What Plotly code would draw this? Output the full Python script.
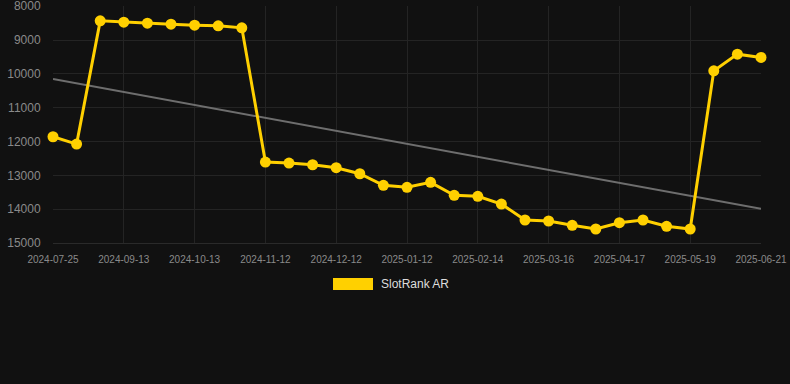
import plotly.graph_objects as go

dates = ["2024-07-25","2024-08-04","2024-09-03","2024-09-13","2024-09-23","2024-10-03",
         "2024-10-13","2024-10-23","2024-11-02","2024-11-12","2024-11-22","2024-12-02",
         "2024-12-12","2024-12-22","2025-01-01","2025-01-12","2025-01-23","2025-02-03",
         "2025-02-14","2025-02-24","2025-03-06","2025-03-16","2025-03-27","2025-04-06",
         "2025-04-17","2025-04-27","2025-05-08","2025-05-19","2025-05-30","2025-06-10",
         "2025-06-21"]
rank = [11860, 12076, 8434, 8473, 8502, 8532, 8561, 8581, 8640, 12607, 12637, 12687,
        12775, 12953, 13296, 13355, 13207, 13591, 13621, 13848, 14320, 14350, 14478,
        14586, 14400, 14320, 14507, 14586, 9910, 9418, 9516]
trend_x = [dates[0], dates[-1]]
trend_y = [10150, 13990]
tick_labels = dates[::3]
y_ticks = [8000, 9000, 10000, 11000, 12000, 13000, 14000, 15000]
series_name = "SlotRank AR"

W, H = 790, 384
L, R, T, B = 53, 29, 6, 141
pw, ph = W - L - R, H - T - B

fig = go.Figure()
fig.add_trace(go.Scatter(x=trend_x, y=trend_y, mode="lines",
                         line=dict(color="#6e6e6e", width=2), showlegend=False,
                         hoverinfo="skip", cliponaxis=False))
fig.add_trace(go.Scatter(x=dates, y=rank, mode="lines+markers", name=series_name,
                         line=dict(color="#FFD000", width=3),
                         marker=dict(color="#FFD000", size=11), showlegend=False,
                         cliponaxis=False))

def px_x(v):
    return (v - L) / pw

def px_y(v):
    return (H - B - v) / ph

fig.add_shape(type="rect", xref="paper", yref="paper",
              x0=px_x(333), x1=px_x(373), y0=px_y(290), y1=px_y(278),
              fillcolor="#FFD000", line=dict(width=0))
fig.add_annotation(xref="paper", yref="paper", x=px_x(379), y=px_y(284),
                   text=series_name, showarrow=False, xanchor="left", yanchor="middle",
                   font=dict(family="Liberation Sans, Arial", size=12, color="#dddddd"))

fig.update_layout(
    width=W, height=H,
    margin=dict(l=L, r=R, t=T, b=B, pad=0, autoexpand=False),
    paper_bgcolor="#111111", plot_bgcolor="#111111",
    font=dict(family="Liberation Sans, Arial", color="#8a8a8a"),
    xaxis=dict(type="category", categoryorder="array", categoryarray=dates,
               range=[0, len(dates) - 1], tickmode="array", tickvals=tick_labels,
               ticktext=tick_labels, showgrid=True, gridcolor="#242424", gridwidth=1,
               zeroline=False, showline=True, linecolor="#2a2a2a", automargin=False,
               ticks="outside", ticklen=7, tickcolor="rgba(0,0,0,0)",
               ticklabeloverflow="allow",
               tickfont=dict(size=10, color="#8a8a8a")),
    yaxis=dict(range=[15000, 7995], tickvals=y_ticks, tickformat="d", showgrid=True,
               gridcolor="#242424", gridwidth=1, zeroline=False, automargin=False,
               ticks="outside", ticklen=9, tickcolor="rgba(0,0,0,0)",
               ticklabeloverflow="allow",
               tickfont=dict(size=12, color="#8a8a8a")),
    hovermode=False,
)

fig.write_html("out.html", config={"displayModeBar": False},
               post_script="document.body.style.margin='0';document.body.style.background='#111111';")
